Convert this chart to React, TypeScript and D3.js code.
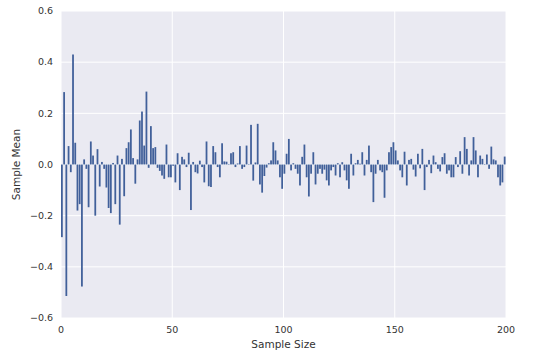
import * as d3 from "d3";
import { useEffect, useRef } from "react";

// sample means, sample size 1..200
const sampleMeans = [
  -0.284, 0.283, -0.514, 0.072, -0.03, 0.43, 0.085, -0.18, -0.155, -0.477,
  0.02, -0.017, -0.167, 0.09, 0.035, -0.2, 0.06, -0.086, 0.01, -0.017,
  -0.09, -0.17, -0.19, 0.006, -0.155, 0.035, -0.235, 0.022, -0.124, 0.064,
  0.087, 0.137, 0.025, -0.075, 0.02, 0.172, 0.207, 0.074, 0.285, -0.013,
  0.15, 0.064, 0.068, -0.013, -0.025, -0.043, -0.056, 0.078, -0.05, -0.05,
  -0.005, -0.07, 0.044, -0.1, 0.03, 0.02, -0.01, 0.046, -0.178, 0.01,
  -0.03, -0.035, 0.015, -0.01, -0.07, 0.09, -0.085, -0.088, 0.072, 0.048,
  -0.01, -0.05, 0.083, 0.012, 0.011, 0.002, 0.044, 0.048, -0.01, 0.004,
  0.072, -0.017, -0.01, 0.074, 0.002, 0.155, -0.063, 0.008, 0.159, -0.078,
  -0.11, -0.045, -0.012, 0.005, 0.016, 0.087, 0.055, 0.016, -0.05, -0.095,
  -0.036, 0.042, 0.1, -0.023, 0.005, -0.017, -0.036, -0.082, 0.03, 0.078,
  -0.05, -0.125, -0.036, 0.048, -0.078, -0.036, -0.017, -0.036, -0.02, -0.062,
  -0.082, -0.023, -0.01, -0.043, 0.005, -0.05, 0.009, -0.023, -0.062, -0.095,
  0.042, -0.043, 0.005, 0.018, 0.003, 0.048, -0.043, 0.018, 0.074, -0.03,
  -0.147, -0.036, 0.018, -0.023, -0.03, -0.13, -0.023, 0.048, 0.068, 0.087,
  0.055, 0.016, -0.023, -0.05, 0.05, -0.082, 0.018, 0.022, -0.02, -0.047,
  0.042, -0.015, 0.061, -0.1, -0.01, 0.018, -0.034, 0.035, 0.009, -0.017,
  -0.027, 0.029, 0.044, -0.036, -0.023, -0.05, -0.05, 0.029, -0.01, 0.052,
  -0.036, 0.107, 0.061, -0.043, 0.016, 0.107, 0.055, -0.05, 0.035, 0.022,
  0.002, 0.039, -0.017, 0.07, 0.02, 0.016, -0.05, -0.082, -0.07, 0.031,
];

const xTicks = [0, 50, 100, 150, 200];
const yTicks = [-0.6, -0.4, -0.2, 0.0, 0.2, 0.4, 0.6];

export default function App() {
  const ref = useRef<SVGSVGElement>(null);

  useEffect(() => {
    const margin = { top: 11, right: 38, bottom: 37, left: 61 };
    const width = 544 - margin.left - margin.right;
    const height = 355 - margin.top - margin.bottom;
    const font = "'DejaVu Sans', sans-serif";
    const textColor = "#333";

    const root = d3.select(ref.current);
    root.selectAll("*").remove();

    const svg = root
      .append("g")
      .attr("transform", "translate(" + margin.left + "," + margin.top + ")");

    const x = d3.scaleLinear().domain([0, 200]).range([0, width]);
    const y = d3.scaleLinear().domain([-0.6, 0.6]).range([height, 0]);

    // darkgrid background
    svg
      .append("rect")
      .attr("width", width)
      .attr("height", height)
      .attr("fill", "#EAEAF2");

    svg
      .selectAll(".gx")
      .data(xTicks)
      .enter()
      .append("line")
      .attr("x1", (d) => x(d))
      .attr("x2", (d) => x(d))
      .attr("y1", 0)
      .attr("y2", height)
      .attr("stroke", "#fff")
      .attr("stroke-width", 1);

    svg
      .selectAll(".gy")
      .data(yTicks)
      .enter()
      .append("line")
      .attr("x1", 0)
      .attr("x2", width)
      .attr("y1", (d) => y(d))
      .attr("y2", (d) => y(d))
      .attr("stroke", "#fff")
      .attr("stroke-width", 1);

    // bars, left edge at index
    svg
      .selectAll(".bar")
      .data(sampleMeans)
      .enter()
      .append("rect")
      .attr("x", (d, i) => x(i))
      .attr("width", x(0.8) - x(0))
      .attr("y", (d) => y(Math.max(0, d)))
      .attr("height", (d) => Math.abs(y(d) - y(0)))
      .attr("fill", "#41609a");

    const fmt = (d: number) => d3.format(".1f")(d).replace("-", "\u2212");

    svg
      .selectAll(".yt")
      .data(yTicks)
      .enter()
      .append("text")
      .attr("x", -8)
      .attr("y", (d) => y(d))
      .attr("dy", "0.35em")
      .attr("text-anchor", "end")
      .attr("font-family", font)
      .attr("font-size", 9.5)
      .attr("fill", textColor)
      .text(fmt);

    svg
      .selectAll(".xt")
      .data(xTicks)
      .enter()
      .append("text")
      .attr("x", (d) => x(d))
      .attr("y", height + 15)
      .attr("text-anchor", "middle")
      .attr("font-family", font)
      .attr("font-size", 9.5)
      .attr("fill", textColor)
      .text((d) => d);

    svg
      .append("text")
      .attr("x", width / 2)
      .attr("y", height + 30)
      .attr("text-anchor", "middle")
      .attr("font-family", font)
      .attr("font-size", 10.5)
      .attr("fill", textColor)
      .text("Sample Size");

    svg
      .append("text")
      .attr("transform", "translate(" + (-41) + "," + height / 2 + ") rotate(-90)")
      .attr("text-anchor", "middle")
      .attr("font-family", font)
      .attr("font-size", 10.5)
      .attr("fill", textColor)
      .text("Sample Mean");
  }, []);

  return (
    <svg
      ref={ref}
      width={544}
      height={355}
      style={{ position: "absolute", left: 0, top: 0, background: "#fff" }}
    ></svg>
  );
}
